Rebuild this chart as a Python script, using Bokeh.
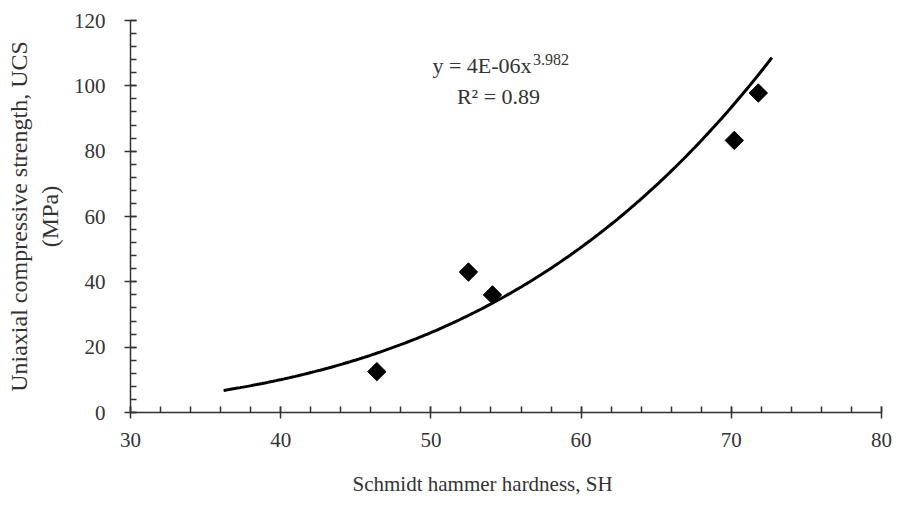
import numpy as np
from bokeh.plotting import figure
from bokeh.models import Label, SingleIntervalTicker, Range1d, Title
from bokeh.embed import file_html
from bokeh.resources import INLINE

# Data
sh = [46.4, 52.5, 54.1, 70.2, 71.8]
ucs = [12.5, 43.0, 36.0, 83.3, 97.8]

# Power trend line shown on chart: y = a * x^b  (a rounded on chart as 4E-06)
fit_a = 4.2e-6
fit_b = 3.982
fit_x_start = 36.2
fit_x_end = 72.7

eq_text = "y = 4E-06x"
eq_sup = "3.982"
r2_text = "R² = 0.89"
x_title = "Schmidt hammer hardness, SH"
y_title = "Uniaxial compressive strength, UCS\n(MPa)"

FONT = "Liberation Serif"
TXT = "#333333"

p = figure(width=906, height=515, output_backend="svg", toolbar_location=None,
           x_range=Range1d(30, 80), y_range=Range1d(0, 120),
           min_border_left=130, min_border_right=25, min_border_top=20, min_border_bottom=103)
p.outline_line_color = None
p.grid.visible = False
p.background_fill_color = "white"

xs = np.linspace(fit_x_start, fit_x_end, 200)
ys = fit_a * xs ** fit_b
p.line(xs, ys, line_color="black", line_width=3)

p.scatter(sh, ucs, marker="square", angle=np.pi / 4, size=13, fill_color="black", line_color="black")

for ax in (p.xaxis[0], p.yaxis[0]):
    ax.axis_line_color = TXT
    ax.axis_line_width = 1.5
    ax.major_tick_line_color = TXT
    ax.minor_tick_line_color = TXT
    ax.major_tick_line_width = 1.5
    ax.minor_tick_line_width = 1.5
    ax.major_tick_in = 6
    ax.major_tick_out = 6
    ax.minor_tick_in = 6
    ax.minor_tick_out = 0
    ax.major_label_text_font = FONT
    ax.major_label_text_font_size = "21px"
    ax.major_label_text_color = TXT
    ax.axis_label_text_font = FONT
    ax.axis_label_text_font_size = "24px"
    ax.axis_label_text_font_style = "normal"
    ax.axis_label_text_color = TXT

p.xaxis[0].ticker = SingleIntervalTicker(interval=10, num_minor_ticks=5)
p.yaxis[0].ticker = SingleIntervalTicker(interval=20, num_minor_ticks=5)
p.xaxis[0].major_label_standoff = 14
p.yaxis[0].major_label_standoff = 19
p.yaxis[0].axis_label = y_title
p.yaxis[0].axis_label_standoff = 8

p.add_layout(Title(text=x_title, align="left", offset=222, standoff=40,
                   text_font=FONT, text_font_size="21px", text_font_style="normal",
                   text_color=TXT), "below")

p.add_layout(Label(x=50.1, y=102.5, text=eq_text, text_align="left",
                   text_font=FONT, text_font_size="22px", text_color=TXT))
p.add_layout(Label(x=56.8, y=106.3, text=eq_sup, text_align="left",
                   text_font=FONT, text_font_size="16px", text_color=TXT))
p.add_layout(Label(x=54.5, y=93, text=r2_text, text_align="center",
                   text_font=FONT, text_font_size="22px", text_color=TXT))

open("out.html", "w").write(file_html(p, INLINE))
